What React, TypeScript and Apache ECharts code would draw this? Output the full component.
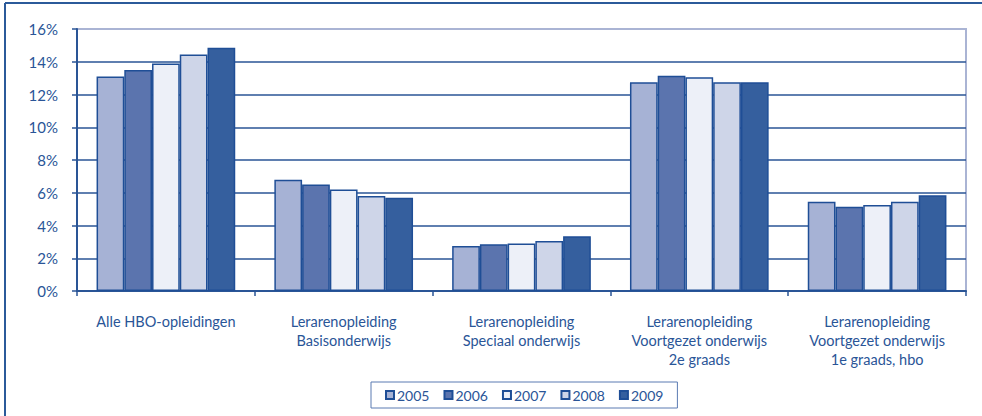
import React, { useEffect, useRef } from "react";
import * as echarts from "echarts";

const categories = [
  "Alle HBO-opleidingen",
  "Lerarenopleiding\nBasisonderwijs",
  "Lerarenopleiding\nSpeciaal onderwijs",
  "Lerarenopleiding\nVoortgezet onderwijs\n2e graads",
  "Lerarenopleiding\nVoortgezet onderwijs\n1e graads, hbo",
];
const years = ["2005", "2006", "2007", "2008", "2009"];
const v2005 = [13.1, 6.8, 2.75, 12.75, 5.45];
const v2006 = [13.5, 6.5, 2.85, 13.15, 5.15];
const v2007 = [13.9, 6.2, 2.9, 13.05, 5.25];
const v2008 = [14.45, 5.8, 3.05, 12.75, 5.45];
const v2009 = [14.85, 5.7, 3.35, 12.75, 5.85];
const yTicks = [0, 2, 4, 6, 8, 10, 12, 14, 16];

const seriesValues = [v2005, v2006, v2007, v2008, v2009];
const colors = ["#a6b2d5", "#5b74ae", "#edf0f8", "#ced5e8", "#355f9e"];
const textColor = "#2a5597";
const font = "Lato, 'Open Sans', sans-serif";

export default function App() {
  const ref = useRef<HTMLDivElement>(null);
  useEffect(() => {
    if (!ref.current) return;
    const chart = echarts.init(ref.current, null, { renderer: "svg" });
    chart.setOption({
      animation: false,
      backgroundColor: "#ffffff",
      textStyle: { fontFamily: font, color: textColor },
      grid: {
        left: 77,
        right: 16,
        top: 29,
        bottom: 125,
        show: true,
        borderColor: "#aab4d4",
        borderWidth: 2,
        backgroundColor: "transparent",
      },
      legend: {
        data: years,
        left: 371,
        top: 382,
        padding: [6, 14, 6, 14],
        itemGap: 14,
        itemWidth: 8,
        itemHeight: 8,
        icon: "rect",
        borderColor: "#5a7ab2",
        borderWidth: 1,
        textStyle: { fontFamily: font, fontSize: 14, color: textColor, padding: [0, 0, 0, -2] },
      },
      xAxis: {
        type: "category",
        data: categories,
        axisLine: { show: true, lineStyle: { color: "#2a5596", width: 2 } },
        axisTick: { show: true, length: 5, lineStyle: { color: "#2a5596", width: 1.5 } },
        axisLabel: {
          interval: 0,
          hideOverlap: false,
          fontFamily: font,
          fontSize: 14.5,
          color: textColor,
          margin: 21,
          lineHeight: 19,
        },
      },
      yAxis: {
        type: "value",
        min: 0,
        max: 16,
        interval: 2,
        axisLine: { show: true, lineStyle: { color: "#2a5596", width: 2 } },
        axisTick: { show: true, length: 5, lineStyle: { color: "#2a5596", width: 1.5 } },
        axisLabel: {
          fontFamily: font,
          fontSize: 15,
          color: textColor,
          margin: 19,
          formatter: (v: number) => (yTicks.includes(v) ? v + "%" : ""),
        },
        splitLine: {
          show: true,
          lineStyle: {
            color: [
              "#2a5596",
              "#2a5596",
              "#2a5596",
              "#2a5596",
              "#2a5596",
              "#2a5596",
              "#2a5596",
              "#2a5596",
              "#aab4d4",
            ],
            width: 1.6,
          },
        },
      },
      series: years.map((y, i) => ({
        name: y,
        type: "bar",
        data: seriesValues[i],
        barGap: "0%",
        barCategoryGap: "22%",
        itemStyle: { color: colors[i], borderColor: "#1f4e96", borderWidth: 1.5 },
      })),
      graphic: [
        { type: "line", shape: { x1: 5, y1: 3, x2: 982, y2: 3 }, style: { stroke: "#2b5a9a", lineWidth: 2 } },
        { type: "line", shape: { x1: 5, y1: 3, x2: 5, y2: 416 }, style: { stroke: "#2b5a9a", lineWidth: 2 } },
      ],
    });
    return () => chart.dispose();
  }, []);
  return (
    <div
      ref={ref}
      style={{ position: "fixed", left: 0, top: 0, width: 982, height: 416 }}
    />
  );
}
